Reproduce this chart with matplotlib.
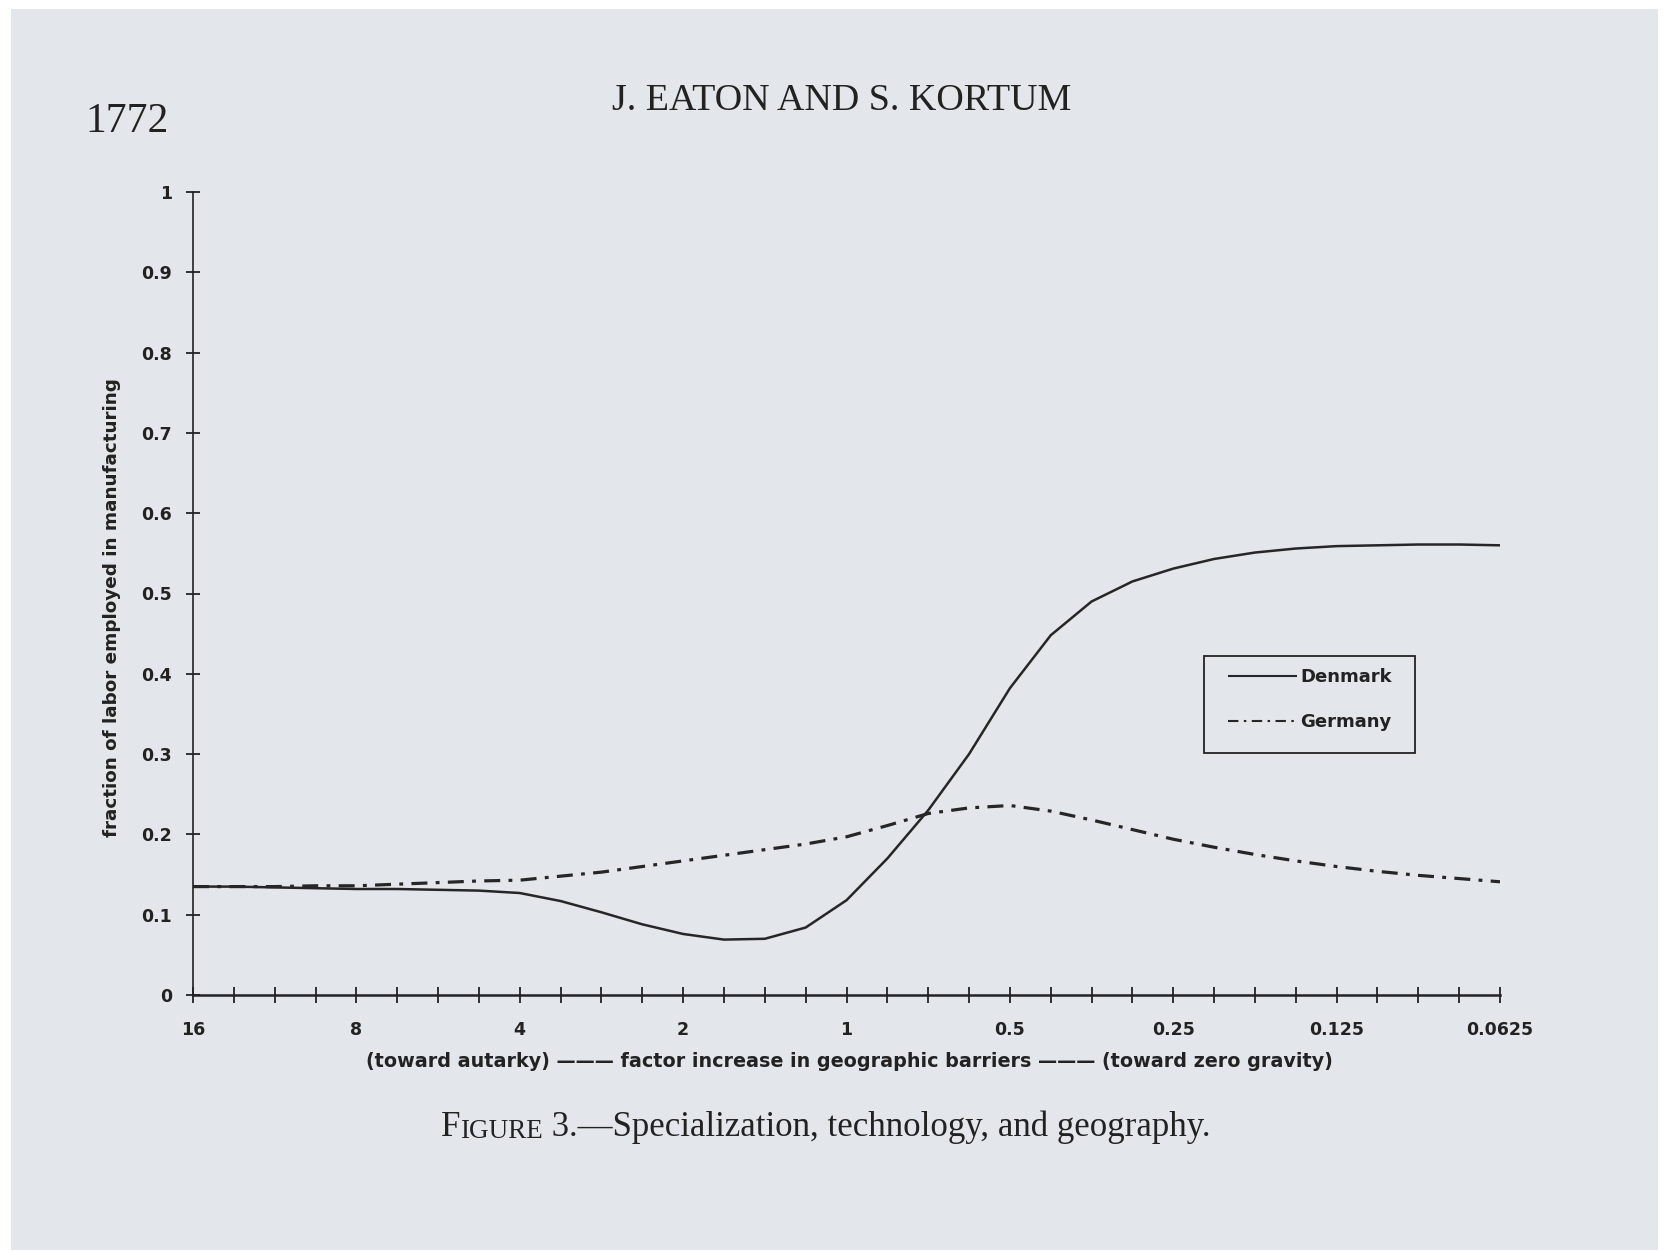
import matplotlib
matplotlib.use("Agg")
import matplotlib.pyplot as plt
from matplotlib.patches import Rectangle
from matplotlib.ticker import FixedLocator, FixedFormatter, NullFormatter

# ---------------- data ----------------
barrier_factor = [16, 13.4543, 11.3137, 9.5137, 8, 6.7272, 5.6569, 4.7568,
                  4, 3.3636, 2.8284, 2.3784, 2, 1.6818, 1.4142, 1.1892,
                  1, 0.8409, 0.7071, 0.5946, 0.5, 0.4204, 0.3536, 0.2973,
                  0.25, 0.2102, 0.1768, 0.1487, 0.125, 0.1051, 0.0884, 0.0743,
                  0.0625]
denmark = [0.135, 0.135, 0.134, 0.133, 0.132, 0.132, 0.131, 0.130,
           0.127, 0.117, 0.103, 0.088, 0.076, 0.069, 0.070, 0.084,
           0.118, 0.170, 0.230, 0.300, 0.382, 0.448, 0.490, 0.515,
           0.531, 0.543, 0.551, 0.556, 0.559, 0.560, 0.561, 0.561,
           0.560]
germany = [0.135, 0.135, 0.135, 0.136, 0.136, 0.138, 0.140, 0.142,
           0.143, 0.148, 0.153, 0.160, 0.167, 0.174, 0.181, 0.188,
           0.197, 0.211, 0.226, 0.233, 0.236, 0.229, 0.218, 0.206,
           0.194, 0.184, 0.175, 0.167, 0.160, 0.154, 0.149, 0.145,
           0.141]
series_names = ["Denmark", "Germany"]
x_tick_values = [16, 8, 4, 2, 1, 0.5, 0.25, 0.125, 0.0625]
x_tick_labels = ["16", "8", "4", "2", "1", "0.5", "0.25", "0.125", "0.0625"]
y_tick_values = [0, 0.1, 0.2, 0.3, 0.4, 0.5, 0.6, 0.7, 0.8, 0.9, 1]
y_tick_labels = ["0", "0.1", "0.2", "0.3", "0.4", "0.5", "0.6", "0.7", "0.8", "0.9", "1"]
y_label = "fraction of labor employed in manufacturing"
x_label = ("(toward autarky) \u2014\u2014\u2014 factor increase in geographic barriers "
           "\u2014\u2014\u2014 (toward zero gravity)")
page_number = "1772"
running_head = "J. EATON AND S. KORTUM"
caption_parts = ["F", "IGURE", " 3.\u2014Specialization, technology, and geography."]

# ---------------- style ----------------
W, H = 1664, 1252
PAGE = "#e3e7eb"
INK = "#222222"
LINE = "#262626"
SERIF = ["Liberation Serif", "DejaVu Serif"]

plt.rcParams["font.family"] = ["DejaVu Sans"]
plt.rcParams["font.weight"] = "bold"
plt.rcParams["text.color"] = INK

fig = plt.figure(figsize=(W / 100, H / 100), dpi=100)
fig.patch.set_facecolor("white")
fig.add_artist(Rectangle((11 / W, 2 / H), (1658 - 11) / W, (1243 - 2) / H,
                         transform=fig.transFigure, facecolor=PAGE,
                         edgecolor="none", zorder=-10))

# axes: origin at pixel (193, 995), x end at 1500, y=1 at 192
x0, x1, y0, y1 = 193, 1500, 995, 192
ax = fig.add_axes([x0 / W, (H - y0) / H, (x1 - x0) / W, (y0 - y1) / H])
ax.set_facecolor("none")
ax.set_xscale("log", base=2)
ax.set_xlim(16, 0.0625)
ax.set_ylim(0, 1)
for s in ("top", "right"):
    ax.spines[s].set_visible(False)
ax.spines["left"].set_linewidth(1.2)
ax.spines["bottom"].set_linewidth(1.8)
ax.spines["left"].set_color(INK)
ax.spines["bottom"].set_color(INK)

ax.xaxis.set_major_locator(FixedLocator(x_tick_values))
ax.xaxis.set_major_formatter(FixedFormatter(x_tick_labels))
minor = [v for v in barrier_factor if v not in x_tick_values]
ax.xaxis.set_minor_locator(FixedLocator(minor))
ax.xaxis.set_minor_formatter(NullFormatter())
ax.yaxis.set_major_locator(FixedLocator(y_tick_values))
ax.yaxis.set_major_formatter(FixedFormatter(y_tick_labels))
ax.yaxis.set_minor_locator(FixedLocator([]))

ax.tick_params(axis="x", which="both", direction="inout", length=11, width=1.3,
               color=INK, pad=13, labelsize=12.5, labelcolor=INK)
ax.tick_params(axis="y", which="both", direction="inout", length=10, width=1.3,
               color=INK, pad=10, labelsize=12.5, labelcolor=INK)

ax.plot(barrier_factor, denmark, color=LINE, lw=1.8, label=series_names[0],
        solid_capstyle="butt", solid_joinstyle="round")
ax.plot(barrier_factor, germany, color=LINE, lw=2.3, label=series_names[1],
        linestyle=(0, (5, 2.6, 1.2, 2.6)))

yl = ax.set_ylabel(y_label, fontsize=12.8, fontweight="bold", color=INK)
ax.yaxis.set_label_coords(-72 / (x1 - x0), (y0 - 608) / (y0 - y1))
xl = ax.set_xlabel(x_label, fontsize=12.5, fontweight="bold", color=INK)
ax.xaxis.set_label_coords((849 - x0) / (x1 - x0), -(1052 - y0) / (y0 - y1))

leg = ax.legend(loc="upper left", bbox_to_anchor=(1228 / W, (H - 668) / H),
                bbox_transform=fig.transFigure, frameon=False, borderpad=0,
                borderaxespad=0, handlelength=3.8, handletextpad=0.2,
                labelspacing=1.5, prop={"weight": "bold", "size": 13})
for h in leg.get_lines():
    h.set_linewidth(1.5)
fig.add_artist(Rectangle((1204 / W, (H - 753) / H), 211 / W, 97 / H,
                         transform=fig.transFigure, fill=False,
                         edgecolor=INK, lw=1.3))

# page texts
t_page = fig.text(85 / W, (H - 132) / H, page_number, family=SERIF,
                  weight="normal", size=30, ha="left", va="baseline", color=INK)
t_head = fig.text(842 / W, (H - 110) / H, running_head, family=SERIF,
                  weight="normal", size=26, ha="center", va="baseline", color=INK)

cap_size = 19.5
c1 = fig.text(441 / W, (H - 1136) / H, caption_parts[0], family=SERIF,
              weight="normal", size=cap_size, ha="left", va="baseline", color=INK)
c2 = fig.text(0, 0, "", family=SERIF)  # placeholder replaced below
c2.remove()
c2 = ax.annotate(caption_parts[1], xy=(1, 0), xycoords=c1, ha="left", va="bottom",
                 family=SERIF, weight="normal", size=cap_size * 0.78,
                 color=INK, annotation_clip=False)
c3 = ax.annotate(caption_parts[2], xy=(1, 0), xycoords=c2, ha="left", va="bottom",
                 family=SERIF, weight="normal", size=cap_size,
                 color=INK, annotation_clip=False)

# fit text widths to the reference
fig.canvas.draw()
r = fig.canvas.get_renderer()


def fit_width(t, target):
    w = t.get_window_extent(r).width
    t.set_fontsize(t.get_fontsize() * target / w)


fit_width(t_page, 83)
fit_width(t_head, 460)
fit_width(xl, 965)
hy = yl.get_window_extent(r).height
yl.set_fontsize(yl.get_fontsize() * 459 / hy)

total = sum(t.get_window_extent(r).width for t in (c1, c2, c3))
scale = 770 / total
for t in (c1, c2, c3):
    t.set_fontsize(t.get_fontsize() * scale)

fig.savefig("out.png", dpi=100, facecolor=fig.get_facecolor())
